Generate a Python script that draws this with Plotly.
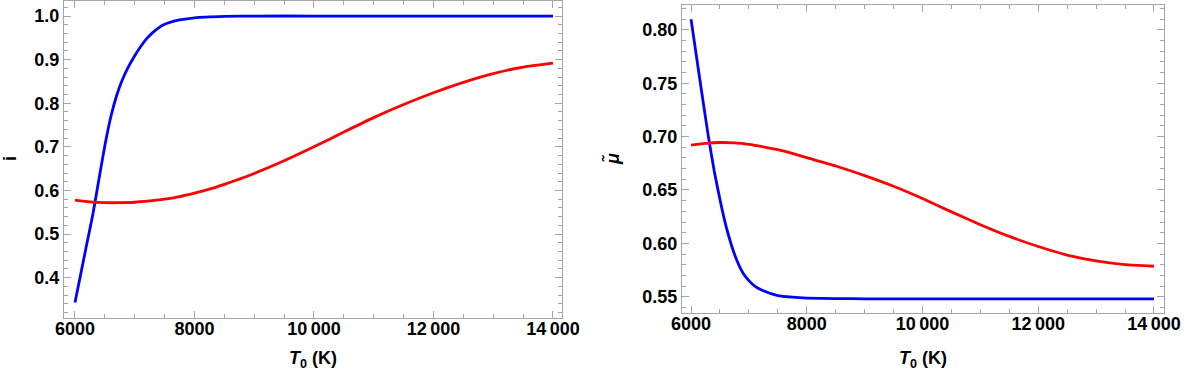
import plotly.graph_objects as go

# temperature grids (K)
T_blue_left = [6000, 6100, 6200, 6300, 6400, 6500, 6600, 6700, 6800, 6900, 7000,
               7100, 7200, 7300, 7400, 7500, 7600, 7750, 8000, 8500, 9000,
               10000, 11000, 12000, 13000, 14000]
i_blue = [0.343, 0.411, 0.479, 0.546, 0.625, 0.703, 0.769, 0.819, 0.856, 0.885, 0.909,
          0.930, 0.948, 0.962, 0.973, 0.981, 0.986, 0.991, 0.996, 0.999, 1.0,
          1.0, 1.0, 1.0, 1.0, 1.0]

T_red_left = [6000, 6250, 6500, 6750, 7000, 7250, 7500, 7750, 8000, 8250, 8500, 8750,
              9000, 9500, 10000, 10500, 11000, 11500, 12000, 12500, 13000, 13500, 14000]
i_red = [0.578, 0.574, 0.572, 0.572, 0.573, 0.576, 0.580, 0.586, 0.594, 0.603, 0.614, 0.626,
         0.639, 0.668, 0.700, 0.734, 0.767, 0.797, 0.824, 0.848, 0.868, 0.883, 0.892]

T_blue_right = [6000, 6100, 6200, 6300, 6400, 6500, 6600, 6700, 6800, 6900, 7000,
                7100, 7250, 7500, 7750, 8000, 8500, 9000, 10000, 11000, 12000, 13000, 14000]
mu_blue = [0.810, 0.773, 0.736, 0.700, 0.668, 0.641, 0.617, 0.598, 0.583, 0.572, 0.565,
           0.560, 0.5555, 0.551, 0.5495, 0.5487, 0.5482, 0.548, 0.548, 0.548, 0.548, 0.548, 0.548]

T_red_right = [6000, 6250, 6500, 6750, 7000, 7250, 7500, 7750, 8000, 8500, 9000, 9500,
               10000, 10500, 11000, 11500, 12000, 12500, 13000, 13500, 14000]
mu_red = [0.692, 0.6937, 0.6945, 0.6942, 0.6928, 0.6905, 0.6878, 0.6843, 0.6803, 0.6725, 0.6635, 0.6535,
          0.642, 0.6295, 0.6175, 0.6065, 0.597, 0.589, 0.5835, 0.580, 0.5785]

x_ticks = [6000, 8000, 10000, 12000, 14000]
x_ticktext = ["6000", "8000", "10\u2009000", "12\u2009000", "14\u2009000"]

W, H = 1200, 380
frame = "#a6a6a6"
font = dict(family="Liberation Sans, Arial, sans-serif", size=18, color="black")


def px_x(p):
    return p / W


def px_y(p):
    return 1 - p / H


def line(color):
    return dict(color=color, width=2.8, shape="spline", smoothing=0.5)


fig = go.Figure()
fig.add_trace(go.Scatter(x=T_blue_left, y=i_blue, mode="lines", line=line("#0000ff"), xaxis="x", yaxis="y"))
fig.add_trace(go.Scatter(x=T_red_left, y=i_red, mode="lines", line=line("#ff0000"), xaxis="x", yaxis="y"))
fig.add_trace(go.Scatter(x=T_blue_right, y=mu_blue, mode="lines", line=line("#0000ff"), xaxis="x2", yaxis="y2"))
fig.add_trace(go.Scatter(x=T_red_right, y=mu_red, mode="lines", line=line("#ff0000"), xaxis="x2", yaxis="y2"))


def axis(domain, rng, anchor, major, minor, **kw):
    return dict(domain=domain, range=rng, anchor=anchor, showgrid=False, zeroline=False,
                automargin=False,
                showline=True, linecolor=frame, linewidth=1, mirror="ticks",
                ticks="inside", ticklen=7, tickcolor=frame, dtick=major,
                tickfont=dict(family=font["family"], size=18, color="black"),
                minor=dict(ticks="inside", ticklen=4, tickcolor=frame, dtick=minor, showgrid=False),
                **kw)


fig.update_layout(
    width=W, height=H, showlegend=False,
    margin=dict(l=0, r=0, t=0, b=0),
    paper_bgcolor="white", plot_bgcolor="white",
    font=font,
    xaxis=axis([px_x(64), px_x(562)], [5816, 14151], "y", 2000, 500,
               tickmode="array", tickvals=x_ticks, ticktext=["<b>%s</b>" % t for t in x_ticktext],
               ticklabelstandoff=-6),
    yaxis=axis([px_y(318), px_y(0.5)], [0.3076, 1.0356], "x", 0.1, 0.02,
               tickformat=".1f", tickprefix="<b>", ticksuffix="</b>"),
    xaxis2=axis([px_x(682), px_x(1164)], [5844, 14173], "y2", 2000, 500,
                tickmode="array", tickvals=x_ticks, ticktext=["<b>%s</b>" % t for t in x_ticktext],
                ticklabelstandoff=-6),
    yaxis2=axis([px_y(313), px_y(5)], [0.5347, 0.8234], "x2", 0.05, 0.01,
                tickformat=".2f", tickprefix="<b>", ticksuffix="</b>"),
)

# axis titles
for cx in (313, 923):
    fig.add_annotation(x=px_x(cx), y=px_y(359), xref="paper", yref="paper", showarrow=False,
                       xanchor="center", yanchor="middle",
                       text="<b><i>T</i><sub>0</sub> (K)</b>", font=dict(size=18))
fig.add_annotation(x=px_x(10), y=px_y(159), xref="paper", yref="paper", showarrow=False,
                   xanchor="center", yanchor="middle",
                   text="<b>i</b>", textangle=-90, font=dict(size=18))
fig.add_annotation(x=px_x(612), y=px_y(159), xref="paper", yref="paper", showarrow=False,
                   xanchor="center", yanchor="middle",
                   text="<b><i>\u03bc\u0303</i></b>", textangle=-90, font=dict(size=18))

# drop the default page margin so the figure sits at the window corner
fig.write_html("out.html", config={"displayModeBar": False},
               post_script="document.body.style.margin='0';")
